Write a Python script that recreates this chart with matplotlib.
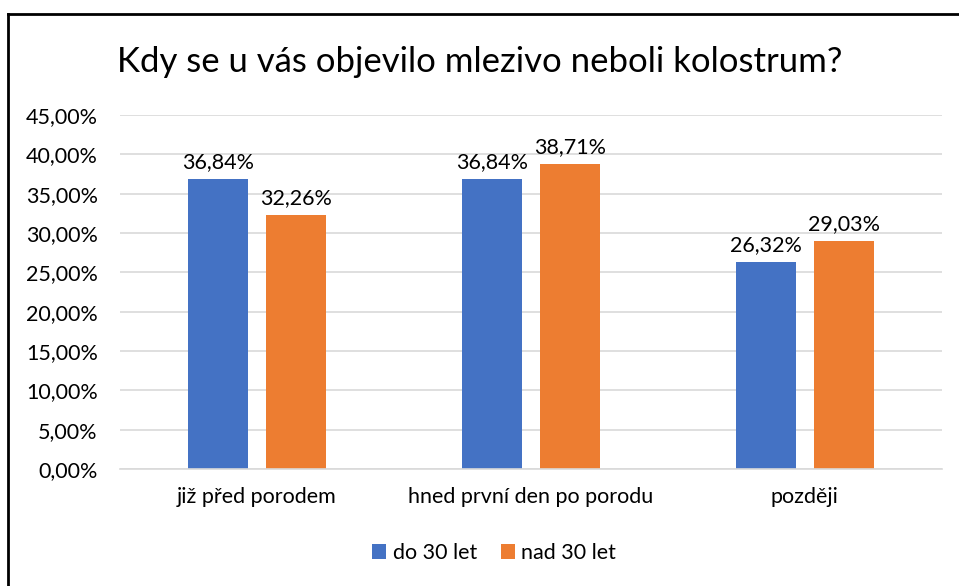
"""
Bar chart: Kdy se u vás objevilo mlezivo neboli kolostrum?
"""

import matplotlib
matplotlib.use('Agg')
import matplotlib.pyplot as plt
from matplotlib.lines import Line2D
from matplotlib.ticker import FuncFormatter
import numpy as np

categories = ['již před porodem', 'hned první den po porodu', 'později']
series_names = ['do 30 let', 'nad 30 let']
do_30 = [36.84, 36.84, 26.32]
nad_30 = [32.26, 38.71, 29.03]
colors = ['#4472C4', '#ED7D31']

plt.rcParams['font.family'] = ['Lato', 'DejaVu Sans']

fig = plt.figure(figsize=(9.59, 5.86), dpi=100)
ax = fig.add_axes([0.1251, 0.1997, 0.857, 0.6041])

x = np.arange(len(categories))
w = 0.219
off = (w + 0.066) / 2
for vals, name, col, sign in [(do_30, series_names[0], colors[0], -1),
                              (nad_30, series_names[1], colors[1], 1)]:
    bars = ax.bar(x + sign * off, vals, w, color=col, label=name)
    for b, v in zip(bars, vals):
        ax.annotate(f'{v:.2f}%'.replace('.', ','),
                    (b.get_x() + b.get_width() / 2, v),
                    xytext=(0, 5), textcoords='offset points',
                    ha='center', va='bottom', fontsize=15.5, color='#000000')

ax.set_xlim(-0.5, 2.5)
ax.set_ylim(0, 45)
ax.set_yticks(np.arange(0, 46, 5))
ax.yaxis.set_major_formatter(FuncFormatter(lambda v, p: f'{v:.2f}%'.replace('.', ',')))
ax.set_xticks(x)
ax.set_xticklabels(categories)
ax.grid(axis='y', color='#D9D9D9', linewidth=1.2)
ax.set_axisbelow(True)
for s in ['top', 'right', 'left']:
    ax.spines[s].set_visible(False)
ax.spines['bottom'].set_color('#D9D9D9')
ax.spines['bottom'].set_linewidth(1.2)
ax.tick_params(axis='both', length=0, labelsize=15.5, colors='#000000')
ax.tick_params(axis='y', pad=16)
ax.tick_params(axis='x', pad=13)

fig.text(0.5, 1 - 62 / 586, 'Kdy se u vás objevilo mlezivo neboli kolostrum?',
         ha='center', va='center', fontsize=25)

fig.legend(loc='center', bbox_to_anchor=(494 / 959, 1 - 553 / 586), ncol=2,
           frameon=False, fontsize=15.5, handlelength=0.65, handleheight=0.65,
           handletextpad=0.3, columnspacing=1.1)

# border of the chart frame (left and top only are visible)
fig.add_artist(Line2D([8 / 959, 8 / 959], [0, 1 - 14 / 586], color='black', linewidth=2))
fig.add_artist(Line2D([8 / 959, 1], [1 - 14 / 586, 1 - 14 / 586], color='black', linewidth=2))

fig.savefig('out.png', dpi=100)
